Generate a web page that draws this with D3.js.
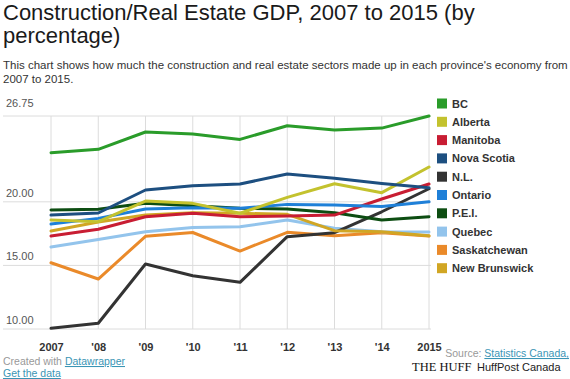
<!DOCTYPE html>
<html><head><meta charset="utf-8">
<script src="https://cdn.jsdelivr.net/npm/d3@7"></script>
<style>
html,body{margin:0;padding:0;background:#fff;}
svg{display:block;font-family:"Liberation Sans",Arial,sans-serif;}
</style></head>
<body>
<svg id="chart" width="570" height="379"></svg>
<script>
const years = ["2007","'08","'09","'10","'11","'12","'13","'14","2015"];
const yTicks = [10, 15, 20, 26.75];
const seriesNames = ["BC","Alberta","Manitoba","Nova Scotia","N.L.","Ontario","P.E.I.","Quebec","Saskatchewan","New Brunswick"];
const seriesColors = ["#2a9c2a","#c3c22e","#c81d33","#1d4f80","#333333","#1f80d8","#0d4d12","#93c4ec","#ea8a2a","#d1a624"];
const bc = [23.86,24.13,25.49,25.33,24.91,25.98,25.64,25.80,26.75];
const alberta = [18.57,18.44,20.06,19.88,19.10,20.35,21.42,20.72,22.74];
const manitoba = [17.31,17.84,18.83,19.10,18.83,18.88,18.96,20.22,21.40];
const novaScotia = [18.96,19.12,20.93,21.27,21.40,22.19,21.85,21.45,21.11];
const nl = [10.05,10.45,15.11,14.19,13.67,17.26,17.57,19.22,21.03];
const ontario = [18.25,18.70,19.43,19.54,19.49,19.80,19.75,19.63,20.00];
const pei = [19.36,19.41,19.88,19.69,19.49,19.43,19.14,18.57,18.83];
const quebec = [16.45,17.04,17.65,17.98,18.04,18.57,17.92,17.65,17.63];
const sask = [15.21,13.93,17.29,17.59,16.13,17.60,17.33,17.57,17.31];
const newBrunswick = [17.70,18.41,18.96,19.14,19.10,19.02,17.73,17.65,17.33];
const seriesValues = [bc,alberta,manitoba,novaScotia,nl,ontario,pei,quebec,sask,newBrunswick];

const svg = d3.select("#chart");
const font = '"Liberation Sans",Arial,sans-serif';

// Title & subtitle
svg.append("text").attr("x",3).attr("y",20).attr("font-size",22).attr("fill","#1a1a1a")
  .text("Construction/Real Estate GDP, 2007 to 2015 (by");
svg.append("text").attr("x",3).attr("y",43).attr("font-size",22).attr("fill","#1a1a1a")
  .text("percentage)");
svg.append("text").attr("x",3).attr("y",69).attr("font-size",11.5).attr("fill","#333")
  .text("This chart shows how much the construction and real estate sectors made up in each province's economy from");
svg.append("text").attr("x",3).attr("y",83).attr("font-size",11.5).attr("fill","#333")
  .text("2007 to 2015.");

const x = d3.scalePoint().domain(years).range([51, 429]);
const y = d3.scaleLinear().domain([10, 26.75]).range([329, 116]);

// horizontal grid
const g = svg.append("g");
g.selectAll("line.h").data(yTicks).join("line")
  .attr("x1",3).attr("x2",431).attr("y1",d=>y(d)).attr("y2",d=>y(d))
  .attr("stroke","#dcdcdc").attr("stroke-width",1);
g.selectAll("text.yl").data(yTicks).join("text")
  .attr("x",6).attr("y",d=>y(d)-(d===26.75?9:5)).attr("font-size",11).attr("fill","#555")
  .text(d=>d3.format(".2f")(d));
// vertical grid
g.selectAll("line.v").data(years).join("line")
  .attr("x1",d=>x(d)).attr("x2",d=>x(d)).attr("y1",y(26.75)).attr("y2",y(10))
  .attr("stroke","#dcdcdc").attr("stroke-width",1);

// x axis labels
const xAxis = d3.axisBottom(x).tickSize(0).tickPadding(0);
const ax = svg.append("g").attr("transform","translate(0,343)").call(xAxis);
ax.select(".domain").remove();
ax.selectAll("text").attr("font-size",11).attr("font-weight","bold").attr("fill","#333")
  .attr("font-family",font);

// lines
const line = d3.line().x((d,i)=>x(years[i])).y(d=>y(d));
const order = [8,7,4,6,9,2,5,1,3,0];
order.forEach(i=>{
  svg.append("path").datum(seriesValues[i]).attr("d",line)
    .attr("fill","none").attr("stroke",seriesColors[i]).attr("stroke-width",3)
    .attr("stroke-linejoin","round").attr("stroke-linecap","round");
});

// legend
const lg = svg.append("g");
seriesNames.forEach((n,i)=>{
  const cy = 103.5 + i*18.3;
  lg.append("rect").attr("x",437).attr("y",cy-5).attr("width",10).attr("height",10).attr("fill",seriesColors[i]);
  lg.append("text").attr("x",452).attr("y",cy+4).attr("font-size",11).attr("font-weight","bold")
    .attr("fill","#333").text(n);
});

// footer
const f1 = svg.append("text").attr("x",3).attr("y",365).attr("font-size",10.5).attr("fill","#999");
f1.append("tspan").text("Created with ");
f1.append("tspan").attr("fill","#3a95b5").attr("text-decoration","underline").text("Datawrapper");
svg.append("text").attr("x",3).attr("y",377).attr("font-size",10.5).attr("fill","#3a95b5")
  .attr("text-decoration","underline").text("Get the data");
const f2 = svg.append("text").attr("x",569).attr("y",357).attr("text-anchor","end").attr("font-size",10.5).attr("fill","#999");
f2.append("tspan").text("Source: ");
f2.append("tspan").attr("fill","#3a95b5").attr("text-decoration","underline").text("Statistics Canada,");

svg.append("text").attr("x",412).attr("y",371).attr("font-size",12.5)
  .attr("font-family",'"Liberation Serif","Times New Roman",serif').attr("fill","#111")
  .text("THE HUFF");
svg.append("text").attr("x",477).attr("y",371).attr("font-size",11).attr("fill","#222")
  .text("HuffPost Canada");
</script>
</body></html>
